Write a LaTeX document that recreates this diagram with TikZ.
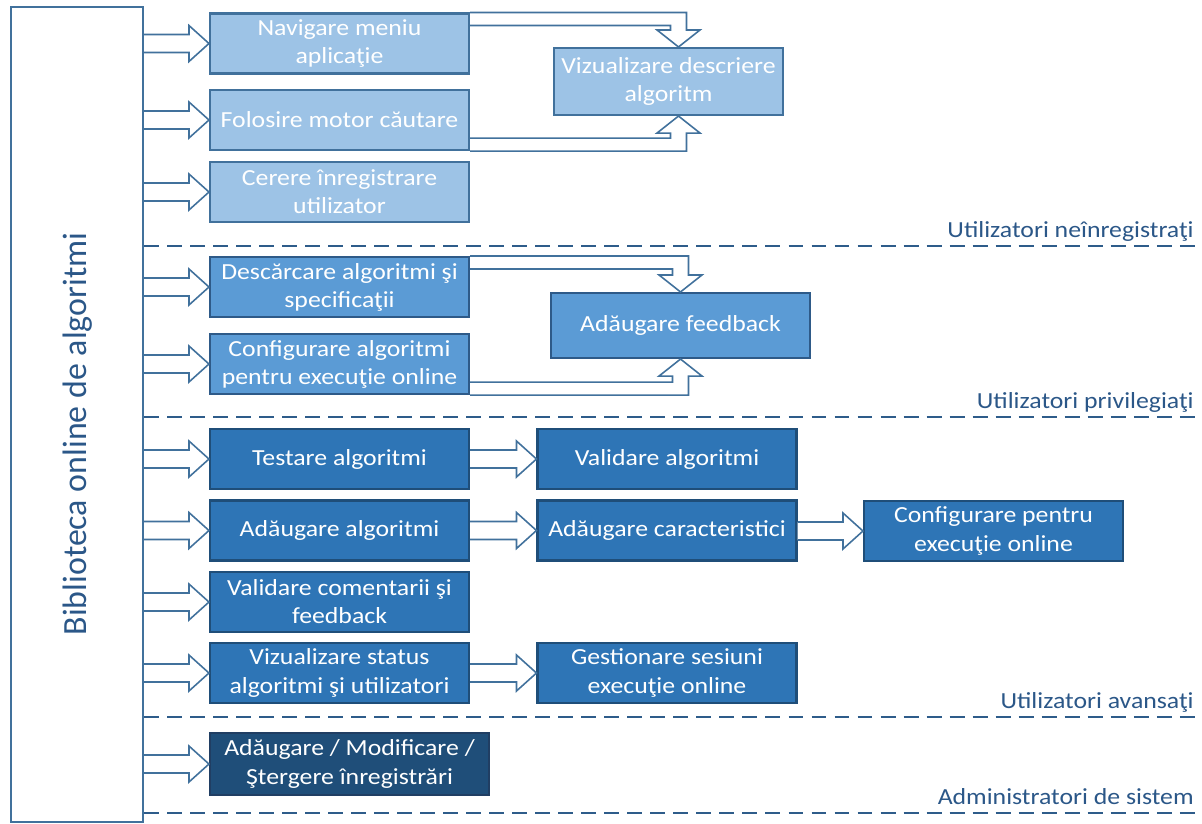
\documentclass[tikz,border=0pt]{standalone}
\usepackage{fontspec}
\setmainfont{Carlito}[FakeStretch=1.12]
\newfontfamily\titlefont{Carlito}
\usetikzlibrary{calc}

\definecolor{boxlight}{HTML}{9DC3E6}
\definecolor{edgelight}{HTML}{41719C}
\definecolor{boxmid}{HTML}{5B9BD5}
\definecolor{edgemid}{HTML}{2E5A88}
\definecolor{boxdark}{HTML}{2E75B6}
\definecolor{edgedark}{HTML}{1F4E79}
\definecolor{boxdeep}{HTML}{1F4E79}
\definecolor{edgedeep}{HTML}{203E63}
\definecolor{arrowedge}{HTML}{41719C}
\definecolor{dashblue}{HTML}{2E5C8A}
\definecolor{labelblue}{HTML}{2B5788}

\tikzset{
  box/.style={draw, line width=1.2pt, minimum width=5.18cm, minimum height=1.2cm, inner sep=0pt,
    text=white, align=center, font=\fontsize{13.1}{16}\selectfont},
  unreg/.style={box, fill=boxlight, draw=edgelight},
  priv/.style={box, fill=boxmid, draw=edgemid},
  adv/.style={box, fill=boxdark, draw=edgedark},
  sysadm/.style={box, fill=boxdeep, draw=edgedeep},
  blockarrow/.style={draw=arrowedge, fill=white, line width=0.9pt, line join=miter},
  separator/.style={draw=dashblue, line width=1.2pt, dash pattern=on 8.5pt off 4.6pt},
  grouplabel/.style={anchor=base east, inner sep=0pt, text=labelblue, font=\fontsize{13.1}{16}\selectfont},
}

% block arrow from the side of #1 into the west side of #2
\newcommand{\blockright}[2]{%
  \draw[blockarrow] ($(#1.east |- #2.west)+(0,-9)$) -- ($(#2.west)+(-20,-9)$) -- ($(#2.west)+(-20,-18)$)
    -- (#2.west) -- ($(#2.west)+(-20,18)$) -- ($(#2.west)+(-20,9)$) -- ($(#1.east |- #2.west)+(0,9)$);}
% bent block arrow from the top right corner of #1 down into #2 (x shift #3)
\newcommand{\blockdown}[3]{%
  \coordinate (tip) at ($(#2.north)+(#3,0)$);
  \draw[blockarrow] (#1.north east) -- ($(tip |- #1.north east)+(8,0)$) -- ($(tip)+(8,-17)$) -- ($(tip)+(21.5,-17)$)
    -- (tip) -- ($(tip)+(-21.5,-17)$) -- ($(tip)+(-8,-17)$) -- ($(tip |- #1.north east)+(-8,13)$) -- ($(#1.north east)+(0,13)$);}
% bent block arrow from the bottom right corner of #1 up into #2 (x shift #3)
\newcommand{\blockup}[3]{%
  \coordinate (tip) at ($(#2.south)+(#3,0)$);
  \draw[blockarrow] (#1.south east) -- ($(tip |- #1.south east)+(8,0)$) -- ($(tip)+(8,17)$) -- ($(tip)+(21.5,17)$)
    -- (tip) -- ($(tip)+(-21.5,17)$) -- ($(tip)+(-8,17)$) -- ($(tip |- #1.south east)+(-8,-13)$) -- ($(#1.south east)+(0,-13)$);}

\begin{document}
\begin{tikzpicture}[x=0.02cm, y=-0.02cm]
  \useasboundingbox (0,0) rectangle (1202,823);

  % library column
  \node[draw=arrowedge, line width=1.2pt, minimum width=2.64cm, minimum height=16.3cm] (lib) at (77,414.5) {};
  \node[rotate=90, text=labelblue, font=\titlefont\fontsize{19.3}{22}\selectfont] (title) at (78,434) {Biblioteca online de algoritmi};

  % utilizatori neinregistrati
  \node[unreg] (nav) at (339.5,43.5) {Navigare meniu\\aplicaţie};
  \node[unreg] (search) at (339.5,120) {Folosire motor căutare};
  \node[unreg] (reg) at (339.5,192) {Cerere înregistrare\\utilizator};
  \node[unreg, minimum width=4.58cm, minimum height=1.34cm] (viz) at (668.5,81.5) {Vizualizare descriere\\algoritm};

  % utilizatori privilegiati
  \node[priv] (down) at (339.5,287) {Descărcare algoritmi şi\\specificaţii};
  \node[priv] (conf) at (339.5,364) {Configurare algoritmi\\pentru execuţie online};
  \node[priv, minimum height=1.3cm] (fb) at (680.5,325.5) {Adăugare feedback};

  % utilizatori avansati
  \node[adv] (test) at (339.5,459) {Testare algoritmi};
  \node[adv] (valid) at (667,459) {Validare algoritmi};
  \node[adv] (add) at (339.5,530.5) {Adăugare algoritmi};
  \node[adv] (feat) at (667,530.5) {Adăugare caracteristici};
  \node[adv] (exec) at (993.5,531) {Configurare pentru\\execuţie online};
  \node[adv] (comm) at (339.5,602) {Validare comentarii şi\\feedback};
  \node[adv] (stat) at (339.5,673) {Vizualizare status\\algoritmi şi utilizatori};
  \node[adv] (sess) at (667,673) {Gestionare sesiuni\\execuţie online};

  % administratori
  \node[sysadm, minimum width=5.58cm, minimum height=1.24cm] (admin) at (349.5,764) {Adăugare / Modificare /\\Ştergere înregistrări};

  % separators
  \coordinate (sep1) at (1202,246);
  \coordinate (sep2) at (1202,417);
  \coordinate (sep3) at (1202,717);
  \coordinate (sep4) at (1202,813);
  \foreach \s in {sep1,sep2,sep3,sep4}
    \draw[separator] (lib.east |- \s) -- (\s);
  \node[grouplabel] (lbl1) at ($(sep1)+(-8,-9)$) {Utilizatori neînregistraţi};
  \node[grouplabel] (lbl2) at ($(sep2)+(-8,-9)$) {Utilizatori privilegiaţi};
  \node[grouplabel] (lbl3) at ($(sep3)+(-8,-9)$) {Utilizatori avansaţi};
  \node[grouplabel] (lbl4) at ($(sep4)+(-8,-9)$) {Administratori de sistem};

  % arrows
  \foreach \n in {nav,search,reg,down,conf,test,add,comm,stat,admin}
    \blockright{lib}{\n};
  \blockright{test}{valid};
  \blockright{add}{feat};
  \blockright{feat}{exec};
  \blockright{stat}{sess};
  \blockdown{nav}{viz}{10}
  \blockup{search}{viz}{10}
  \blockdown{down}{fb}{0}
  \blockup{conf}{fb}{0}
\end{tikzpicture}
\end{document}
